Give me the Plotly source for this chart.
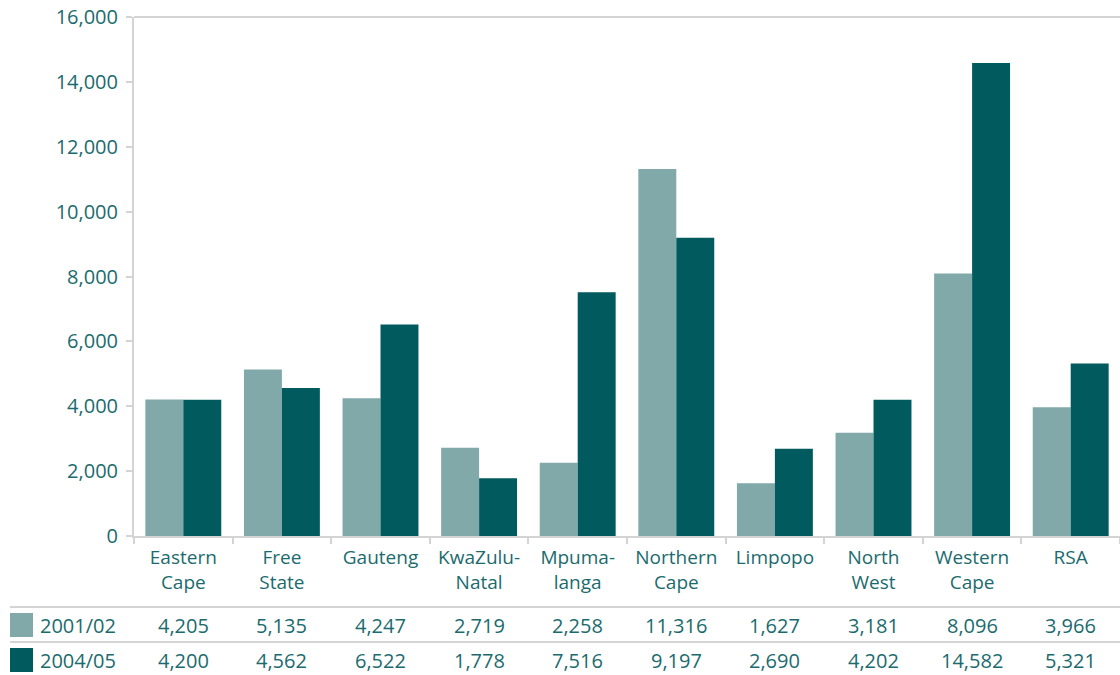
import plotly.graph_objects as go

# Provinces and spending values per year
categories = ["Eastern<br>Cape", "Free<br>State", "Gauteng", "KwaZulu-<br>Natal", "Mpuma-<br>langa",
              "Northern<br>Cape", "Limpopo", "North<br>West", "Western<br>Cape", "RSA"]
series_names = ["2001/02", "2004/05"]
values_2001 = [4205, 5135, 4247, 2719, 2258, 11316, 1627, 3181, 8096, 3966]
values_2004 = [4200, 4562, 6522, 1778, 7516, 9197, 2690, 4202, 14582, 5321]
y_ticks = [0, 2000, 4000, 6000, 8000, 10000, 12000, 14000, 16000]

LIGHT = "#81a9aa"
DARK = "#005a5e"
TEXT = "#1b6b6e"
GRID = "#d4d4d4"
FONT = "Open Sans"

W, H = 1120, 675
ML, MR, MT, MB = 134, 0, 17, 139
plot_w = W - ML - MR
plot_h = H - MT - MB


def px_x(px):
    return (px - ML) / plot_w


def px_y(py):
    return (H - MB - py) / plot_h


fig = go.Figure()
for name, vals, col in [(series_names[0], values_2001, LIGHT), (series_names[1], values_2004, DARK)]:
    fig.add_trace(go.Bar(x=categories, y=vals, name=name, marker=dict(color=col, line=dict(width=0)),
                         showlegend=False, hoverinfo="x+y"))

shapes = []
annotations = []

# Data table under the chart
row_y = [625, 660]
line_y = [607, 642]
for ly in line_y:
    shapes.append(dict(type="line", xref="paper", yref="paper", x0=px_x(10), x1=px_x(1120),
                       y0=px_y(ly), y1=px_y(ly), line=dict(color=GRID, width=2)))
for name, vals, col, ry in [(series_names[0], values_2001, LIGHT, row_y[0]),
                            (series_names[1], values_2004, DARK, row_y[1])]:
    shapes.append(dict(type="rect", xref="paper", yref="paper", x0=px_x(10), x1=px_x(33),
                       y0=px_y(ry - 12), y1=px_y(ry + 12), fillcolor=col, line=dict(width=0)))
    annotations.append(dict(text=name, xref="paper", yref="paper", x=px_x(38), y=px_y(ry),
                            xanchor="left", yanchor="middle", showarrow=False,
                            font=dict(family=FONT, size=20, color=TEXT)))
    for cat, v in zip(categories, vals):
        annotations.append(dict(text=f"{v:,}", xref="x", yref="paper", x=cat, y=px_y(ry),
                                xanchor="center", yanchor="middle", showarrow=False,
                                font=dict(family=FONT, size=20, color=TEXT)))

# Top border of the plot area
shapes.append(dict(type="line", xref="paper", yref="paper", x0=0, x1=1, y0=1, y1=1,
                   line=dict(color=GRID, width=2)))

fig.update_layout(
    width=W, height=H,
    margin=dict(l=ML, r=MR, t=MT, b=MB),
    paper_bgcolor="white", plot_bgcolor="white",
    barmode="group", bargap=0.23, bargroupgap=0,
    font=dict(family=FONT, color=TEXT),
    shapes=shapes, annotations=annotations,
    xaxis=dict(type="category", showline=True, linecolor=GRID, linewidth=2,
               ticks="outside", tickson="boundaries", ticklen=6, tickcolor=GRID, tickwidth=2,
               tickfont=dict(family=FONT, size=19, color=TEXT), showgrid=False,
               ticklabelstandoff=3),
    yaxis=dict(range=[0, 16000], tickvals=y_ticks, tickformat=",d", showline=True,
               linecolor=GRID, linewidth=2, ticks="outside", ticklen=6, tickcolor=GRID, tickwidth=2,
               tickfont=dict(family=FONT, size=20, color=TEXT), showgrid=False, zeroline=False,
               ticklabelstandoff=4),
)

fig.write_html("out.html")
